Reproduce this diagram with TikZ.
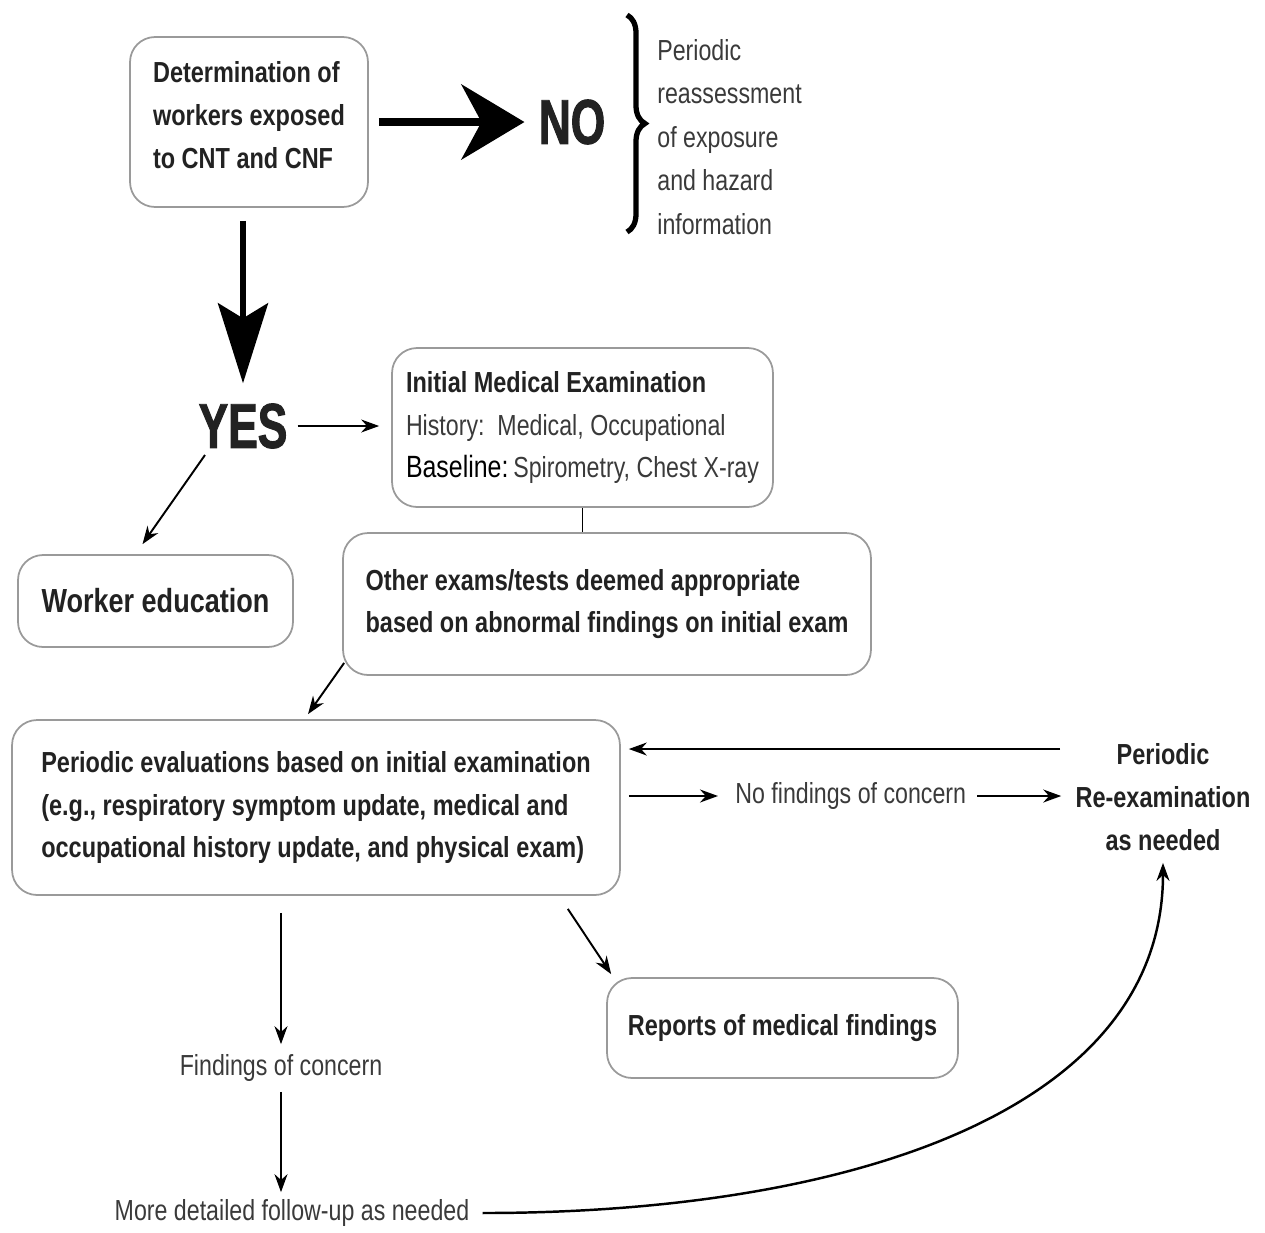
\documentclass[tikz,border=0pt]{standalone}
\usepackage{fontspec}
\setmainfont{Liberation Sans}
\newfontfamily\condfont[FakeStretch=0.81]{Liberation Sans}
\newfontfamily\lightfont[FakeStretch=0.8]{Liberation Sans}
\newfontfamily\heavyfont[FakeStretch=0.7,FakeBold=1.5]{Liberation Sans}
\usepackage{tikz}
\usetikzlibrary{arrows.meta,decorations.pathreplacing,calc,positioning}
\definecolor{boxgray}{HTML}{9A9A9A}
\definecolor{inkdark}{HTML}{222222}
\definecolor{inklight}{HTML}{3A3A3A}
\tikzset{
  box/.style={draw=boxgray,line width=1pt,rounded corners=0.5cm,align=left,inner sep=0pt},
  boldtxt/.style={font=\condfont\bfseries\fontsize{16.5}{24.4}\selectfont,text=inkdark},
  lighttxt/.style={font=\lightfont\fontsize{16.5}{24.7}\selectfont,text=inklight,inner sep=0pt},
  bigtxt/.style={font=\heavyfont\bfseries\fontsize{36}{40}\selectfont,text=inkdark,inner sep=0pt},
  arr/.style={-{Stealth[length=0.36cm,width=0.26cm]},line width=1.1pt},
  bigarr/.style={-{Stealth[length=1.26cm,width=1.5cm,inset=0.4cm]},line width=4.5pt}
}

\begin{document}
\begin{tikzpicture}[x=0.02cm,y=-0.02cm]
\useasboundingbox (0,0) rectangle (1265,1232);
\node[box,boldtxt,minimum width=4.76cm,minimum height=3.4cm] (det) at (249,122) {Determination of\\workers exposed\\to CNT and CNF\\[-0.57cm]};
\node[bigtxt] (no) at (572,122) {NO};
\node[lighttxt,align=left,anchor=west] (reass) at (657,137) {Periodic\\reassessment\\of exposure\\and hazard\\information};
\draw[line width=3pt,decorate,decoration={brace,amplitude=0.36cm}] (627,15) -- (627,232);
\node[bigtxt] (yes) at (243,426) {YES};
\node[box,boldtxt,minimum width=7.62cm,minimum height=3.18cm] (init) at (582.5,427.5) {Initial Medical Examination\\{\lightfont\mdseries\fontsize{16.5}{24.4}\selectfont\color{inklight}History:\ \ Medical, Occupational}\\{\condfont\mdseries\fontsize{17.5}{24.4}\selectfont\color{black}Baseline:}\,{\lightfont\mdseries\fontsize{16.5}{24.4}\selectfont\color{inklight}Spirometry, Chest X-ray}};
\node[box,boldtxt,align=center,font=\condfont\bfseries\fontsize{19}{24}\selectfont,minimum width=5.5cm,minimum height=1.84cm] (work) at (155.5,601) {Worker education};
\node[box,boldtxt,minimum width=10.56cm,minimum height=2.84cm] (other) at (607,604) {Other exams/tests deemed appropriate\\based on abnormal findings on initial exam};
\node[box,boldtxt,minimum width=12.16cm,minimum height=3.5cm] (eval) at (316,807.5) {Periodic evaluations based on initial examination\\(e.g., respiratory symptom update, medical and\\occupational history update, and physical exam)};
\node[boldtxt,align=center,inner sep=0pt] (reex) at (1163,797) {Periodic\\Re-examination\\as needed};
\node[lighttxt,anchor=west] (nofind) at (735,796) {No findings of concern};
\node[box,boldtxt,align=center,minimum width=7.02cm,minimum height=2cm] (rep) at (782.5,1028) {Reports of medical findings};
\node[lighttxt] (find) at (281,1068) {Findings of concern};
\node[lighttxt] (more) at (292,1213) {More detailed follow-up as needed};
\coordinate (backpt) at (1060,749);

\draw[bigarr,shorten <=0.2cm,shorten >=0.28cm] (det.east) -- (no.west);
\draw[-{Stealth[length=1.6cm,width=1cm,inset=0.3cm]},line width=3.4pt,shorten <=0.26cm,shorten >=0.4cm] (yes.north |- det.south) -- (yes.north);
\draw[arr,shorten <=0.2cm,shorten >=0.24cm] (yes.east) -- (yes.east -| init.west);
\draw[arr] ([shift={(-38,29)}]yes.center) -- ([shift={(-13,-10)}]work.north);
\draw[line width=1pt] (init.south) -- (init.south |- other.north);
\draw[arr] ([shift={(2,-13)}]other.south west) -- ([shift={(-8,-5)}]eval.north);
\draw[arr,shorten >=0.16cm] (backpt) -- (backpt -| eval.east);
\draw[arr,shorten <=0.16cm,shorten >=0.34cm] (eval.east |- nofind) -- (nofind.west);
\draw[arr,shorten <=0.22cm,shorten >=0.28cm] (nofind.east) -- (nofind.east -| reex.west);
\draw[arr] ([shift={(-53,13)}]eval.south east) -- ([shift={(5,-3)}]rep.north west);
\draw[arr,shorten <=0.34cm,shorten >=0.2cm] (find.north |- eval.south) -- (find.north);
\draw[arr,shorten <=0.2cm,shorten >=0.14cm] (find.south) -- (find.south |- more.north);
\draw[arr,line width=1.4pt,shorten <=0.26cm,shorten >=0.24cm] (more.east) .. controls +(380,0) and +(0,260) .. (reex.south);
\end{tikzpicture}
\end{document}
